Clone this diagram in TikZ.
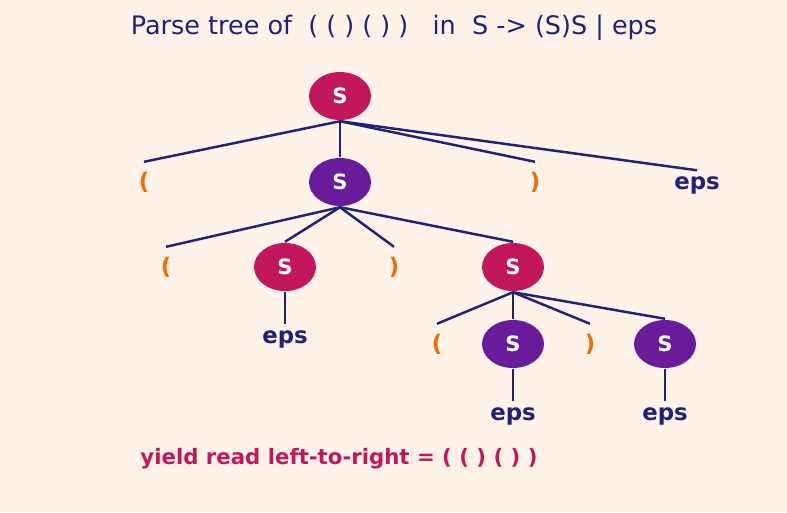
\documentclass[tikz,border=0pt]{standalone}
\usepackage{fontspec}
\setmainfont{DejaVu Sans}
\usetikzlibrary{shapes.geometric, positioning}

\definecolor{bgcream}{HTML}{FFF2E8}
\definecolor{inkblue}{HTML}{1F2378}
\definecolor{rootred}{HTML}{C2185B}
\definecolor{innerpurple}{HTML}{6A1B9A}
\definecolor{parenorange}{HTML}{EF6C00}

\begin{document}
\begin{tikzpicture}[x=0.02cm, y=-0.02cm, line width=1.4pt, inkblue,
    nt/.style={ellipse, minimum width=1.24cm, minimum height=0.96cm, inner sep=0pt,
        text=white, font=\fontsize{12}{14}\selectfont\bfseries},
    ntred/.style={nt, fill=rootred},
    ntpurple/.style={nt, fill=innerpurple},
    paren/.style={inner sep=0pt, minimum height=0.76cm, text=parenorange,
        font=\fontsize{13}{15}\selectfont\bfseries},
    epsleaf/.style={inner sep=0pt, minimum height=0.54cm, text=inkblue,
        font=\fontsize{13}{15}\selectfont\bfseries}]

    % Background and frame
    \fill[bgcream] (0,0) rectangle (787,512);
    \useasboundingbox (0,0) rectangle (787,512);

    % Title
    \node[font=\fontsize{14.5}{17}\selectfont] (title) at (394,28)
        {Parse tree of~~( ( ) ( ) )~~~in~~S -> (S)S | eps};

    % Root
    \node[ntred] (S0) at (340,96) {S};

    % Level 1
    \node[paren]    (L1a) at (144,182) {(};
    \node[ntpurple] (S1)  at (340,182) {S};
    \node[paren]    (L1b) at (535,182) {)};
    \node[epsleaf]  (E1)  at (697,185) {eps};

    % Level 2
    \node[paren]  (L2a) at (166,267) {(};
    \node[ntred]  (S2)  at (285,267) {S};
    \node[paren]  (L2b) at (394,267) {)};
    \node[ntred]  (S3)  at (513,267) {S};

    % Level 3
    \node[epsleaf]  (E2)  at (285,339) {eps};
    \node[paren]    (L3a) at (437,344) {(};
    \node[ntpurple] (S4)  at (513,344) {S};
    \node[paren]    (L3b) at (590,344) {)};
    \node[ntpurple] (S5)  at (665,344) {S};

    % Level 4
    \node[epsleaf] (E3) at (513,416) {eps};
    \node[epsleaf] (E4) at (665,416) {eps};

    % Edges
    \path (S0.south) edge (L1a.north) edge (S1.north) edge (L1b.north) edge (E1.north)
          (S1.south) edge (L2a.north) edge (S2.north) edge (L2b.north) edge (S3.north)
          (S2.south) edge (E2.north)
          (S3.south) edge (L3a.north) edge (S4.north) edge (L3b.north) edge (S5.north)
          (S4.south) edge (E3.north)
          (S5.south) edge (E4.north);

    % Yield
    \node[text=rootred, font=\fontsize{12.1}{14}\selectfont\bfseries] (yield) at (339,459)
        {yield read left-to-right = ( ( ) ( ) )};

\end{tikzpicture}
\end{document}
